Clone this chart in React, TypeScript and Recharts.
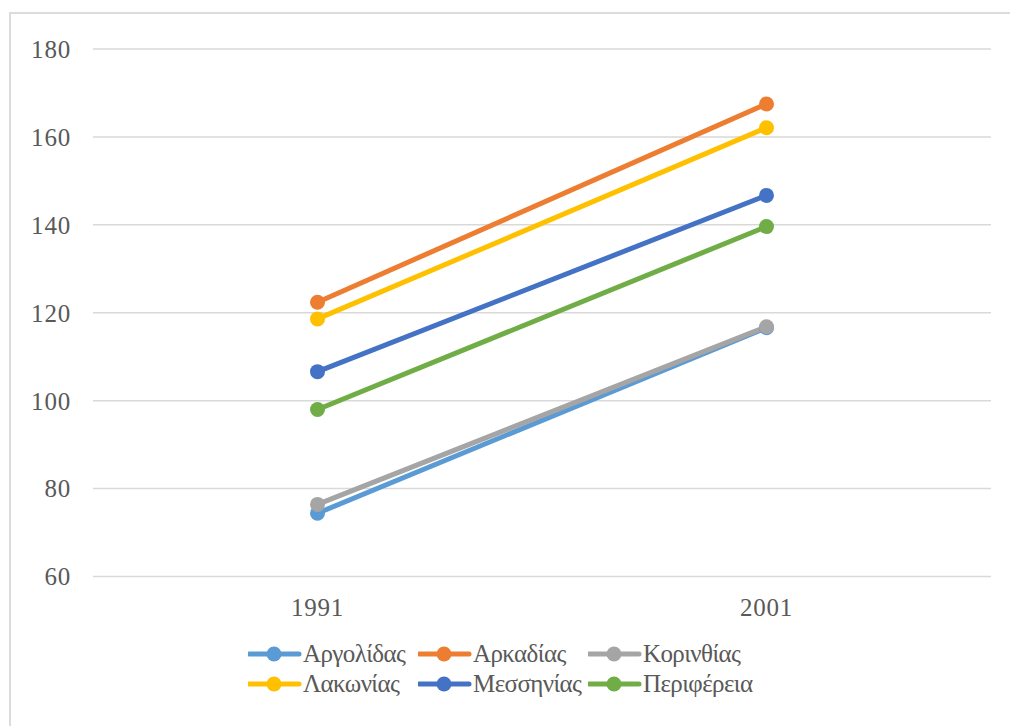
import { LineChart, Line, XAxis, YAxis, CartesianGrid, Legend } from "recharts";

const years = ["1991", "2001"];
const argolidas = [74.4, 116.6];
const arkadias = [122.4, 167.5];
const korinthias = [76.4, 116.8];
const lakonias = [118.6, 162.1];
const messinias = [106.6, 146.7];
const perifereia = [98.0, 139.6];
const yTicks = [60, 80, 100, 120, 140, 160, 180];

const series = [
  { name: "Αργολίδας", values: argolidas, color: "#5B9BD5" },
  { name: "Αρκαδίας", values: arkadias, color: "#ED7D31" },
  { name: "Κορινθίας", values: korinthias, color: "#A5A5A5" },
  { name: "Λακωνίας", values: lakonias, color: "#FFC000" },
  { name: "Μεσσηνίας", values: messinias, color: "#4472C4" },
  { name: "Περιφέρεια", values: perifereia, color: "#70AD47" },
];

const data = years.map((year, i) => {
  const row: Record<string, string | number> = { year };
  series.forEach((s) => {
    row[s.name] = s.values[i];
  });
  return row;
});

const FONT = "'Liberation Serif', serif";
const TEXT = "#595959";

function LegendBox() {
  return (
    <div
      style={{
        display: "grid",
        gridTemplateColumns: "170px 170px 170px",
        gridAutoRows: "30px",
        marginLeft: 248,
        marginTop: -1,
        fontFamily: FONT,
        fontSize: 25,
        letterSpacing: -0.6,
        color: TEXT,
      }}
    >
      {series.map((s) => (
        <div key={s.name} style={{ display: "flex", alignItems: "center", whiteSpace: "nowrap" }}>
          <svg width={55} height={30} style={{ flex: "none" }}>
            <line x1={1} y1={15} x2={51} y2={15} stroke={s.color} strokeWidth={5} strokeLinecap="round" />
            <circle cx={26} cy={15} r={7.5} fill={s.color} />
          </svg>
          <span>{s.name}</span>
        </div>
      ))}
    </div>
  );
}

export default function App() {
  return (
    <div
      style={{
        position: "absolute",
        left: 0,
        top: 0,
        width: 1010,
        height: 726,
        overflow: "hidden",
        background: "#fff",
      }}
    >
      <div
        style={{
          position: "absolute",
          left: 9,
          top: 12,
          width: 1010,
          height: 726,
          border: "2px solid #DCDCDC",
          boxSizing: "border-box",
        }}
      />
      <div style={{ position: "absolute", left: 0, top: 0 }}>
        <LineChart width={1010} height={726} data={data} margin={{ top: 49, right: 19, left: 0, bottom: 26 }}>
          <CartesianGrid vertical={false} stroke="#D9D9D9" strokeWidth={1.5} />
          <XAxis
            dataKey="year"
            height={63.5}
            padding={{ left: 224.5, right: 224.5 }}
            axisLine={false}
            tickLine={false}
            tickSize={0}
            tickMargin={22}
            tick={{ fill: TEXT, fontSize: 25, fontFamily: FONT, letterSpacing: 0.8 }}
          />
          <YAxis
            width={93}
            domain={[60, 180]}
            ticks={yTicks}
            axisLine={false}
            tickLine={false}
            tickSize={0}
            tickMargin={22}
            tick={{ fill: TEXT, fontSize: 25, fontFamily: FONT, letterSpacing: 0.8 }}
          />
          <Legend verticalAlign="bottom" height={60} content={() => <LegendBox />} />
          {series.map((s) => (
            <Line
              key={s.name}
              dataKey={s.name}
              stroke={s.color}
              strokeWidth={5}
              dot={{ r: 7.5, fill: s.color, stroke: "none" }}
              activeDot={false}
              isAnimationActive={false}
            />
          ))}
        </LineChart>
      </div>
    </div>
  );
}
